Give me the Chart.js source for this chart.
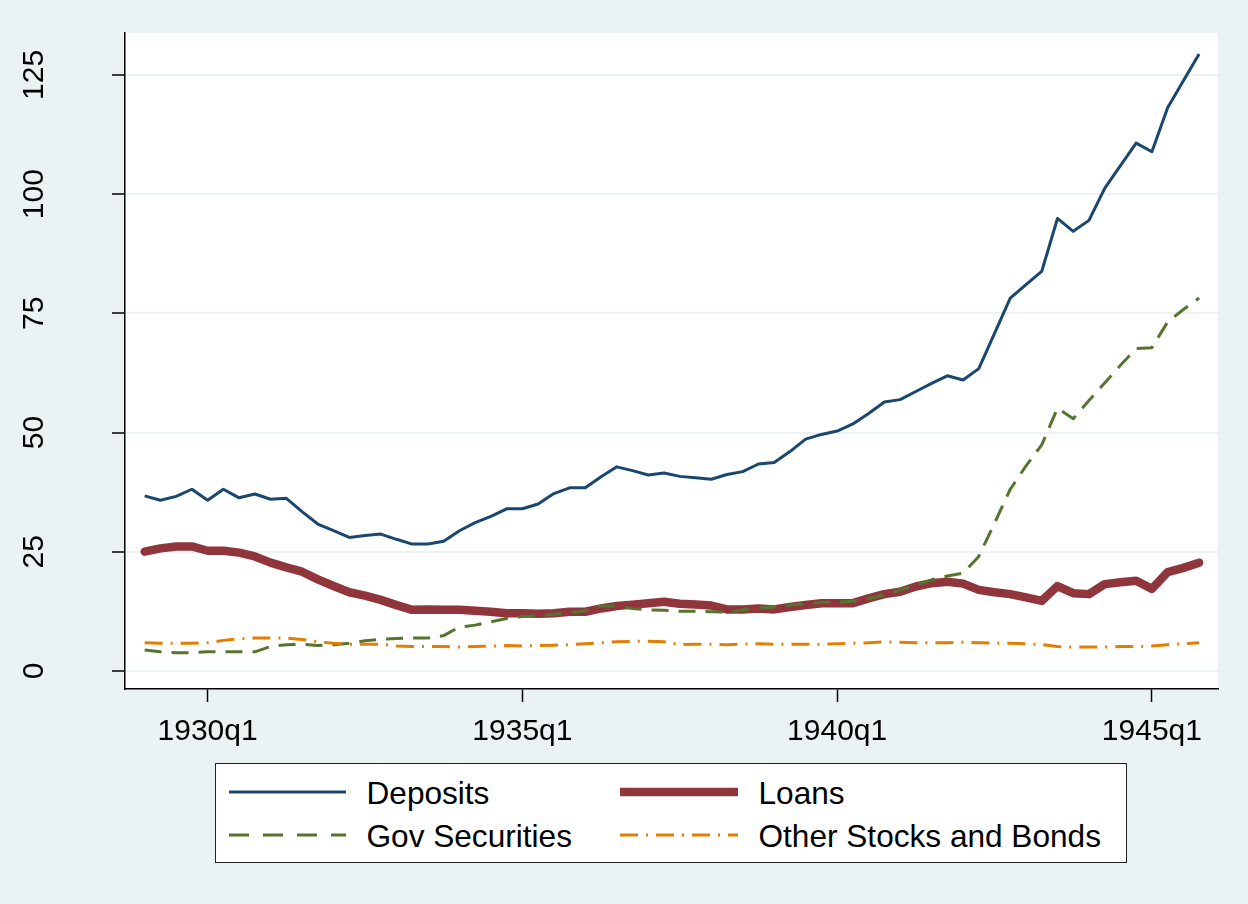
<!DOCTYPE html>
<html>
<head>
<meta charset="utf-8">
<script src="https://cdn.jsdelivr.net/npm/chart.js@4.4.1/dist/chart.umd.min.js"></script>
<style>
  html, body { margin: 0; padding: 0; background: #EAF2F3; }
  #wrap { position: relative; width: 1248px; height: 904px; overflow: hidden; }
  #c { position: absolute; left: 0; top: 0; }
  #legend { position: absolute; left: 215px; top: 763px; width: 912px; height: 100px; box-sizing: border-box;
            border: 1.5px solid #222; background: #fff; }
  .item { position: absolute; font-family: "Liberation Sans", Arial, sans-serif; font-size: 31.6px; color: #000;
          line-height: 36px; height: 36px; white-space: nowrap; }
  .sample { position: absolute; }
</style>
</head>
<body>
<div id="wrap">
  <canvas id="c" width="1248" height="904"></canvas>
  <div id="legend"></div>
</div>
<script>
// ---- Data (quarterly, 1929q1 .. 1945q4) ----
const years = [1929,1930,1931,1932,1933,1934,1935,1936,1937,1938,1939,1940,1941,1942,1943,1944,1945];
const quarters = [];
years.forEach(y => { for (let q = 1; q <= 4; q++) quarters.push(y + 'q' + q); });

const deposits = [
  36.7,35.8,36.6,38.1, 35.8,38.1,36.3,37.1, 36.0,36.2,33.4,30.8, 29.4,28.0,28.4,28.7,
  27.6,26.6,26.6,27.2, 29.4,31.1,32.4,34.0, 34.0,35.0,37.2,38.4, 38.4,40.7,42.8,42.0,
  41.1,41.5,40.8,40.5, 40.2,41.2,41.8,43.4, 43.7,46.0,48.6,49.6, 50.3,51.8,54.0,56.4,
  56.9,58.6,60.3,61.9, 61.0,63.4,70.8,78.2, 81.0,83.8,94.9,92.2, 94.5,101.2,106.0,110.7,
  108.9,118.1,123.8,129.4
];
const loans = [
  25.0,25.7,26.1,26.1, 25.2,25.2,24.8,24.0, 22.7,21.7,20.8,19.2, 17.8,16.5,15.8,14.9,
  13.8,12.8,12.9,12.8, 12.8,12.6,12.4,12.1, 12.1,12.0,12.1,12.4, 12.4,13.1,13.6,13.9,
  14.2,14.5,14.1,13.9, 13.7,12.9,12.9,13.1, 12.9,13.4,13.8,14.2, 14.2,14.2,15.2,16.1,
  16.6,17.7,18.4,18.7, 18.3,17.0,16.5,16.1, 15.4,14.7,17.8,16.3, 16.1,18.2,18.6,18.9,
  17.2,20.7,21.6,22.7
];
const govSecurities = [
  4.4,4.0,3.8,3.8, 4.0,4.0,4.0,4.0, 5.1,5.5,5.6,5.3, 5.5,5.8,6.3,6.6,
  6.8,6.9,6.9,7.4, 9.2,9.6,10.3,11.0, 11.4,11.6,11.9,12.2, 12.6,13.6,13.6,13.1,
  12.8,12.7,12.5,12.5, 12.4,12.3,12.8,13.2, 13.4,13.8,14.1,14.4, 14.4,14.6,15.2,15.9,
  17.0,18.0,19.1,19.9, 20.5,24.0,31.0,38.1, 43.0,47.4,55.1,52.9, 56.7,60.4,64.1,67.6,
  67.8,73.2,75.8,78.2
];
const otherStocksBonds = [
  5.9,5.8,5.8,5.8, 5.9,6.4,6.7,6.9, 6.9,6.9,6.6,6.1, 5.8,5.6,5.6,5.6,
  5.2,5.1,5.1,5.1, 5.0,5.1,5.2,5.3, 5.2,5.3,5.4,5.5, 5.7,5.9,6.1,6.2,
  6.2,6.1,5.5,5.6, 5.6,5.5,5.6,5.7, 5.6,5.6,5.6,5.6, 5.7,5.8,5.9,6.1,
  6.0,5.9,5.9,5.9, 6.0,5.9,5.8,5.8, 5.7,5.5,5.1,5.0, 5.0,5.0,5.1,5.1,
  5.2,5.5,5.7,5.9
];

const xTickLabels = ['1930q1','1935q1','1940q1','1945q1'];
const yTickValues = [0,25,50,75,100,125];
const seriesNames = ['Deposits','Loans','Gov Securities','Other Stocks and Bonds'];

const FONT = '"Liberation Sans", Arial, sans-serif';
const COLORS = { dep: '#1A476F', loans: '#90353B', gov: '#55752F', other: '#E37E00' };

const toXY = arr => arr.map((v, i) => ({ x: i, y: v }));

const bgPlugin = {
  id: 'plotBg',
  beforeDraw(chart) {
    const { ctx, chartArea: a } = chart;
    ctx.save();
    ctx.fillStyle = '#ffffff';
    ctx.fillRect(a.left, a.top, a.right - a.left, a.bottom - a.top);
    ctx.restore();
  }
};

const yLabelPlugin = {
  id: 'yLabels',
  afterDraw(chart) {
    const { ctx } = chart;
    const ys = chart.scales.y;
    ctx.save();
    ctx.fillStyle = '#000';
    ctx.font = '30px ' + FONT;
    ctx.textAlign = 'center';
    ctx.textBaseline = 'middle';
    yTickValues.forEach(v => {
      const py = ys.getPixelForValue(v);
      ctx.save();
      ctx.translate(35, py);
      ctx.rotate(-Math.PI / 2);
      ctx.fillText(String(v), 0, 0);
      ctx.restore();
    });
    ctx.restore();
  }
};

new Chart(document.getElementById('c'), {
  type: 'line',
  data: {
    datasets: [
      { label: seriesNames[0], data: toXY(deposits), borderColor: COLORS.dep, borderWidth: 3,
        pointRadius: 0, tension: 0, order: 4, borderJoinStyle: 'round' },
      { label: seriesNames[1], data: toXY(loans), borderColor: COLORS.loans, borderWidth: 8.5,
        pointRadius: 0, tension: 0, order: 3, borderJoinStyle: 'round', borderCapStyle: 'round' },
      { label: seriesNames[2], data: toXY(govSecurities), borderColor: COLORS.gov, borderWidth: 3,
        borderDash: [17, 10], pointRadius: 0, tension: 0, order: 2, borderJoinStyle: 'round' },
      { label: seriesNames[3], data: toXY(otherStocksBonds), borderColor: COLORS.other, borderWidth: 3,
        borderDash: [18, 8, 2, 8], pointRadius: 0, tension: 0, order: 1, borderJoinStyle: 'round' }
    ]
  },
  options: {
    responsive: false,
    animation: false,
    devicePixelRatio: 1,
    layout: { padding: { left: 0, top: 33, right: 30, bottom: 135 } },
    plugins: { legend: { display: false }, tooltip: { enabled: false } },
    scales: {
      x: {
        type: 'linear',
        min: -1.25,
        max: 68.2,
        afterFit(scale) { scale.height = 80; },
        afterBuildTicks(scale) {
          scale.ticks = xTickLabels.map(l => ({ value: quarters.indexOf(l) }));
        },
        ticks: {
          autoSkip: false,
          maxRotation: 0,
          minRotation: 0,
          padding: 12,
          color: '#000',
          font: { family: FONT, size: 30 },
          callback: v => quarters[v]
        },
        grid: { drawOnChartArea: false, drawTicks: true, tickLength: 13, tickColor: '#000', tickWidth: 1.5 },
        border: { display: true, color: '#000', width: 1.5 }
      },
      y: {
        type: 'linear',
        min: -3.8,
        max: 133.8,
        afterFit(scale) { scale.width = 125; },
        afterBuildTicks(scale) {
          scale.ticks = yTickValues.map(v => ({ value: v }));
        },
        ticks: { display: false },
        grid: { color: '#EAF2F3', lineWidth: 2, drawTicks: true, tickLength: 13, tickColor: '#000', tickWidth: 1.5 },
        border: { display: true, color: '#000', width: 1.5 }
      }
    }
  },
  plugins: [bgPlugin, yLabelPlugin]
});

// ---- Legend (HTML) ----
const legendEl = document.getElementById('legend');
const L = 215, T = 763;
const legendItems = [
  { name: seriesNames[0], color: COLORS.dep, width: 3, dash: '', x1: 229, x2: 346, tx: 367, cy: 792 },
  { name: seriesNames[1], color: COLORS.loans, width: 8.5, dash: '', x1: 620, x2: 738, tx: 759, cy: 792 },
  { name: seriesNames[2], color: COLORS.gov, width: 3, dash: '20 14', x1: 229, x2: 346, tx: 367, cy: 835 },
  { name: seriesNames[3], color: COLORS.other, width: 3, dash: '18 8 2 8', x1: 620, x2: 738, tx: 759, cy: 835 }
];
legendItems.forEach(it => {
  const w = it.x2 - it.x1;
  const svgNS = 'http://www.w3.org/2000/svg';
  const svg = document.createElementNS(svgNS, 'svg');
  svg.setAttribute('class', 'sample');
  svg.setAttribute('width', w);
  svg.setAttribute('height', 20);
  svg.style.left = (it.x1 - L - 1.5) + 'px';
  svg.style.top = (it.cy - T - 10 - 1.5) + 'px';
  const line = document.createElementNS(svgNS, 'line');
  line.setAttribute('x1', 0); line.setAttribute('x2', w);
  line.setAttribute('y1', 10); line.setAttribute('y2', 10);
  line.setAttribute('stroke', it.color);
  line.setAttribute('stroke-width', it.width);
  if (it.dash) line.setAttribute('stroke-dasharray', it.dash);
  svg.appendChild(line);
  legendEl.appendChild(svg);
  const span = document.createElement('div');
  span.className = 'item';
  span.textContent = it.name;
  span.style.left = (it.tx - L - 1.5) + 'px';
  span.style.top = (it.cy - T - 17 - 1.5) + 'px';
  legendEl.appendChild(span);
});
</script>
</body>
</html>
